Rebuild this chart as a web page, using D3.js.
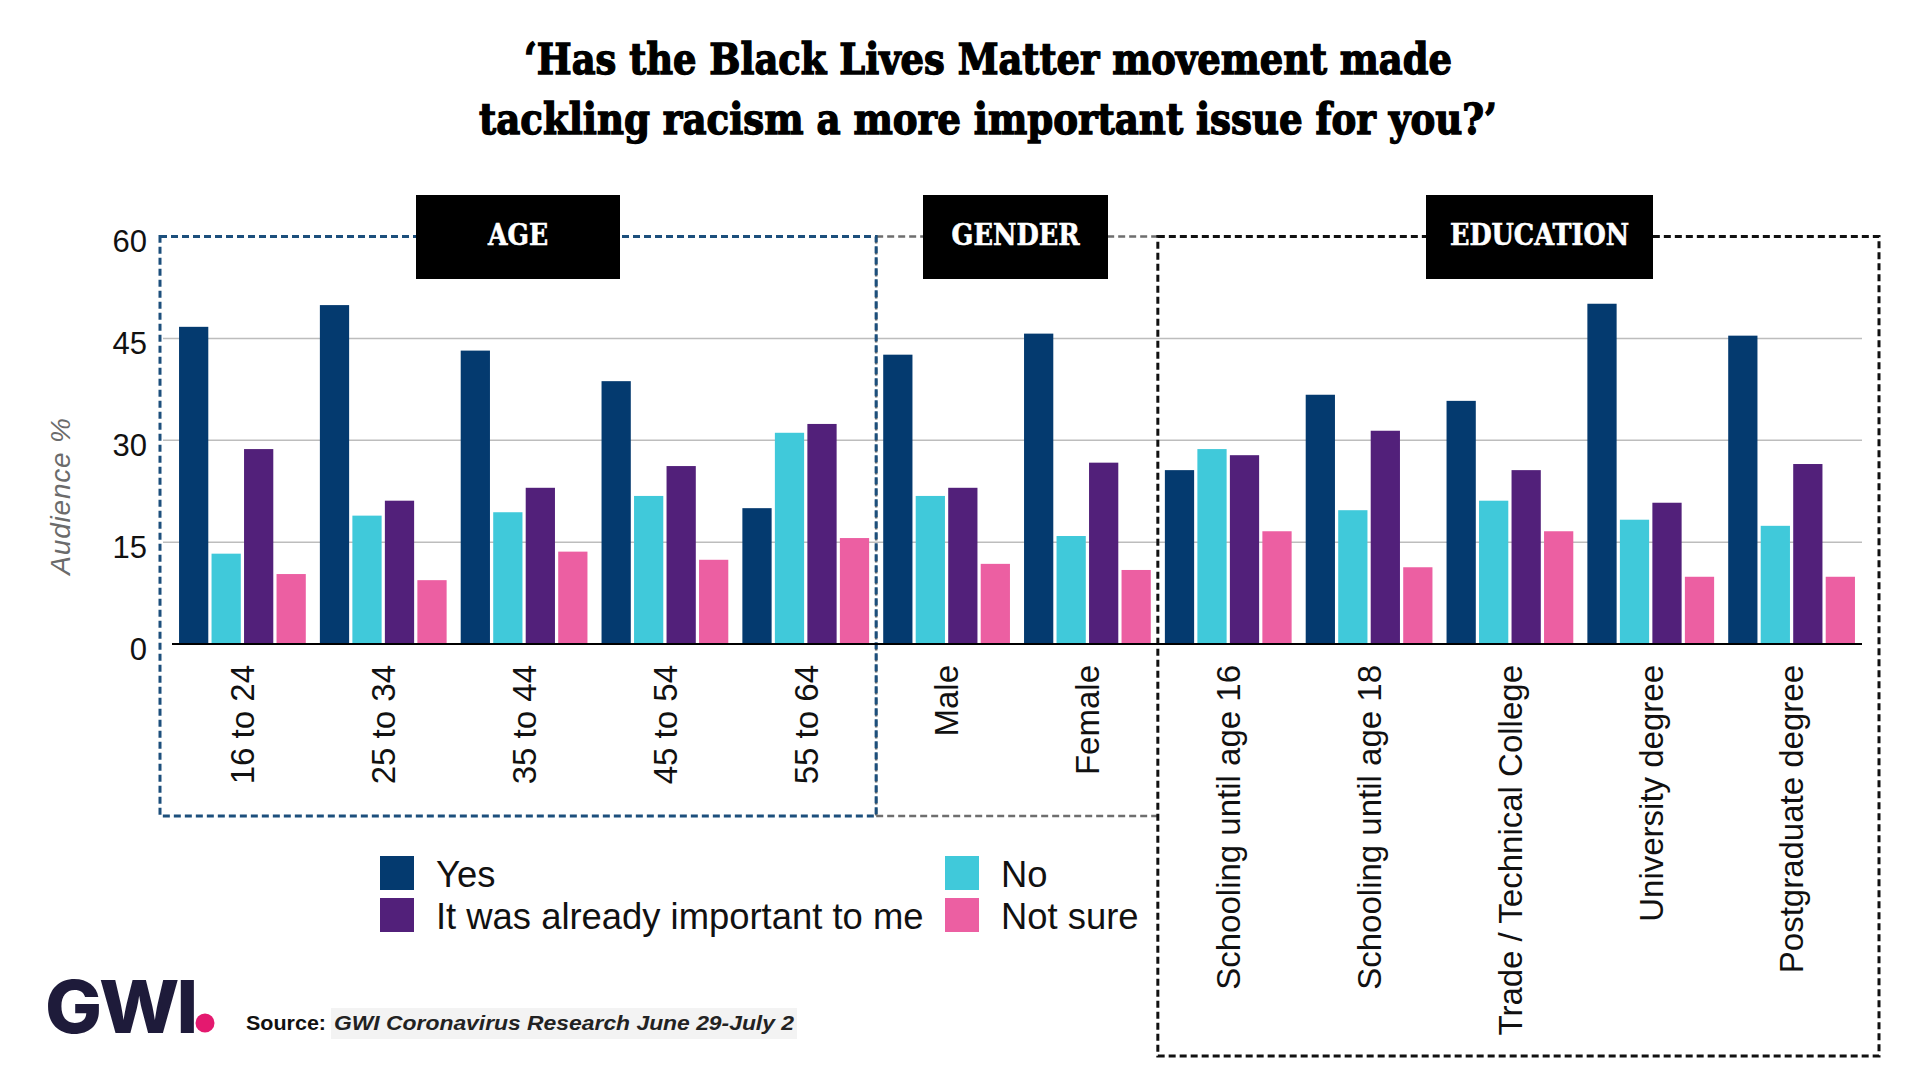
<!DOCTYPE html>
<html>
<head>
<meta charset="utf-8">
<script src="https://cdn.jsdelivr.net/npm/d3@7"></script>
<style>
html,body{margin:0;padding:0;background:#fff;}
svg{display:block;}
.serif{font-family:'DejaVu Serif Condensed','DejaVu Serif',serif;font-stretch:condensed;font-weight:bold;}
.sans{font-family:'Liberation Sans',Arial,Helvetica,sans-serif;}
</style>
</head>
<body>
<svg id="chart" width="1920" height="1080"></svg>
<script>
// ---- Data ----
const categories = ["16 to 24","25 to 34","35 to 44","45 to 54","55 to 64","Male","Female",
  "Schooling until age 16","Schooling until age 18","Trade / Technical College","University degree","Postgraduate degree"];
const seriesNames = ["Yes","No","It was already important to me","Not sure"];
const yesValues     = [46.7, 49.9, 43.2, 38.7, 20.0, 42.6, 45.7, 25.6, 36.7, 35.8, 50.1, 45.4];
const noValues      = [13.3, 18.9, 19.4, 21.8, 31.1, 21.8, 15.9, 28.7, 19.7, 21.1, 18.3, 17.4];
const alreadyValues = [28.7, 21.1, 23.0, 26.2, 32.4, 23.0, 26.7, 27.8, 31.4, 25.6, 20.8, 26.5];
const notSureValues = [10.3,  9.4, 13.6, 12.4, 15.6, 11.8, 10.9, 16.6, 11.3, 16.6,  9.9,  9.9];
const yTicks = [0, 15, 30, 45, 60];
const sectionNames = ["AGE","GENDER","EDUCATION"];
const sectionSizes = [5, 2, 5];
const titleLines = ["\u2018Has the Black Lives Matter movement made","tackling racism a more important issue for you?\u2019"];
const yAxisTitle = "Audience %";
const sourceLabel = "Source:";
const sourceText = "GWI Coronavirus Research June 29-July 2";
const logoText = "GWI";

// ---- Styling ----
const colors = {"Yes":"#043a6f","No":"#40c9da","It was already important to me":"#52207a","Not sure":"#ec5fa2"};
const valuesBySeries = {"Yes":yesValues,"No":noValues,"It was already important to me":alreadyValues,"Not sure":notSureValues};

const svg = d3.select("#chart");

const x0 = d3.scaleBand().domain(categories).range([172, 1862]).paddingInner(0.1).paddingOuter(0.05);
const x1 = d3.scaleBand().domain(seriesNames).range([0, x0.bandwidth()]).paddingInner(0.1).paddingOuter(0);
const y = d3.scaleLinear().domain([0, 60]).range([644, 236.5]);

// Title
svg.append("g").selectAll("text").data(titleLines).join("text")
  .attr("class","serif")
  .attr("x", 988).attr("y", (d,i)=> 74 + i*60)
  .attr("text-anchor","middle")
  .attr("font-size", 43)
  .attr("fill","#000").attr("stroke","#000").attr("stroke-width",1.3)
  .attr("textLength", (d,i)=> i===0 ? 928 : 1018)
  .attr("lengthAdjust","spacingAndGlyphs")
  .text(d=>d);

// Gridlines
svg.append("g").selectAll("line").data(yTicks.filter(t=>t>0 && t<60)).join("line")
  .attr("x1", 163).attr("x2", 1862)
  .attr("y1", d=>y(d)).attr("y2", d=>y(d))
  .attr("stroke","#bdbdbd").attr("stroke-width",1.5);

// Section boxes (dashed)
const ageRight = (x0(categories[4]) + x0.bandwidth() + x0(categories[5])) / 2;
const genderRight = (x0(categories[6]) + x0.bandwidth() + x0(categories[7])) / 2;
const topY = y(60);
const dash = "7,4";
// Gender (gray)
const gG = svg.append("g").attr("fill","none").attr("stroke","#6e6e6e").attr("stroke-width",2.5).attr("stroke-dasharray",dash);
gG.append("line").attr("x1",ageRight).attr("x2",genderRight).attr("y1",topY).attr("y2",topY);
gG.append("line").attr("x1",ageRight).attr("x2",genderRight).attr("y1",816).attr("y2",816);
gG.append("line").attr("x1",ageRight).attr("x2",ageRight).attr("y1",topY).attr("y2",816);
// Age (blue)
svg.append("rect").attr("x",160).attr("y",topY).attr("width",ageRight-160).attr("height",816-topY)
  .attr("fill","none").attr("stroke","#1c4f7c").attr("stroke-width",3).attr("stroke-dasharray",dash);
// Education (black)
svg.append("rect").attr("x",genderRight).attr("y",topY).attr("width",1879-genderRight).attr("height",1056-topY)
  .attr("fill","none").attr("stroke","#111").attr("stroke-width",3).attr("stroke-dasharray",dash);

// Bars
const groups = svg.append("g").selectAll("g").data(categories).join("g")
  .attr("transform", d=>`translate(${x0(d)},0)`);
groups.selectAll("rect").data((d,i)=> seriesNames.map(s=>({s, v: valuesBySeries[s][i]}))).join("rect")
  .attr("x", d=>x1(d.s)).attr("width", x1.bandwidth())
  .attr("y", d=>y(d.v)).attr("height", d=>y(0)-y(d.v))
  .attr("fill", d=>colors[d.s]);

// Baseline
svg.append("line").attr("x1",172).attr("x2",1862).attr("y1",y(0)).attr("y2",y(0))
  .attr("stroke","#000").attr("stroke-width",2);

// Y tick labels
svg.append("g").selectAll("text").data(yTicks).join("text")
  .attr("class","sans")
  .attr("x",147).attr("y",d=>y(d)+5).attr("dy","0.35em")
  .attr("text-anchor","end").attr("font-size",31).attr("fill","#111")
  .text(d=>d);

// Y axis title
svg.append("text").attr("class","sans")
  .attr("transform","translate(60,496) rotate(-90)")
  .attr("text-anchor","middle").attr("dy","0.35em")
  .attr("font-size",28).attr("font-style","italic").attr("letter-spacing",0.8)
  .attr("fill","#6b6b6b").text(yAxisTitle);

// Category labels
svg.append("g").selectAll("text").data(categories).join("text")
  .attr("class","sans")
  .attr("transform", d=>`translate(${x0(d)+x0.bandwidth()/2},665) rotate(-90)`)
  .attr("text-anchor","end").attr("dy","0.36em")
  .attr("font-size",33).attr("fill","#111")
  .text(d=>d);

// Section header boxes
const headerBoxes = [
  {cx:518, w:204},
  {cx:1015.5, w:185},
  {cx:1539.5, w:227}
];
const headerTextWidths = [60, 128, 179];
const hg = svg.append("g").selectAll("g").data(sectionNames).join("g");
hg.append("rect")
  .attr("x",(d,i)=>headerBoxes[i].cx-headerBoxes[i].w/2).attr("y",195)
  .attr("width",(d,i)=>headerBoxes[i].w).attr("height",84).attr("fill","#000");
hg.append("text").attr("class","serif")
  .attr("x",(d,i)=>headerBoxes[i].cx).attr("y",245)
  .attr("text-anchor","middle").attr("font-size",30).attr("fill","#fff")
  .attr("stroke","#fff").attr("stroke-width",0.6)
  .attr("textLength",(d,i)=>headerTextWidths[i]).attr("lengthAdjust","spacingAndGlyphs")
  .text(d=>d);

// Legend
const legendItems = [
  {s:"Yes", col:0, row:0},
  {s:"No", col:1, row:0},
  {s:"It was already important to me", col:0, row:1},
  {s:"Not sure", col:1, row:1}
];
const legendCols = [380, 945];
const lg = svg.append("g").selectAll("g").data(legendItems).join("g")
  .attr("transform", d=>`translate(${legendCols[d.col]},${856 + d.row*42})`);
lg.append("rect").attr("width",34).attr("height",34).attr("fill",d=>colors[d.s]);
lg.append("text").attr("class","sans")
  .attr("x",56).attr("y",31).attr("font-size",36.4).attr("fill","#111")
  .text(d=>d.s);

// Logo
svg.append("text")
  .attr("x",45).attr("y",1033)
  .attr("font-family","Inter, 'Open Sans', sans-serif").attr("font-weight",800)
  .attr("font-size",73).attr("letter-spacing",-3).attr("fill","#1e1b3a")
  .attr("textLength",150).attr("lengthAdjust","spacingAndGlyphs")
  .text(logoText);
svg.append("circle").attr("cx",205).attr("cy",1023).attr("r",9.5).attr("fill","#e4196f");

// Source
svg.append("rect").attr("x",331).attr("y",1008).attr("width",466).attr("height",31).attr("fill","#f3f3f3");
svg.append("text").attr("class","sans")
  .attr("x",246).attr("y",1030).attr("font-size",21).attr("font-weight","bold").attr("fill","#111")
  .attr("textLength",80).attr("lengthAdjust","spacingAndGlyphs")
  .text(sourceLabel);
svg.append("text").attr("class","sans")
  .attr("x",334).attr("y",1030).attr("font-size",21).attr("font-weight","bold").attr("font-style","italic").attr("fill","#222")
  .attr("textLength",460).attr("lengthAdjust","spacingAndGlyphs")
  .text(sourceText);
</script>
</body>
</html>
